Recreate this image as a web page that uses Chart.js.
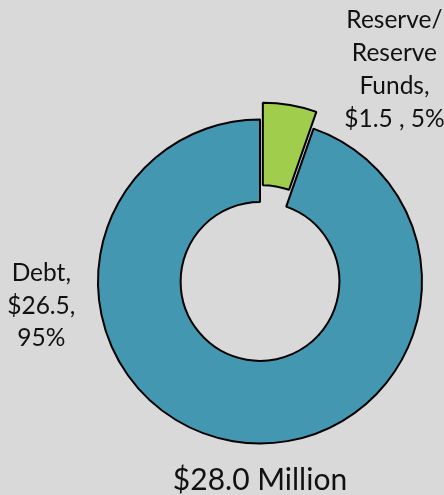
<!DOCTYPE html>
<html>
<head>
<meta charset="utf-8">
<script src="https://cdn.jsdelivr.net/npm/chart.js@4/dist/chart.umd.min.js"></script>
<style>
    html, body { margin: 0; padding: 0; background: #d9d9d9; }
    #wrap { width: 444px; height: 495px; }
</style>
</head>
<body>
<div id="wrap"><canvas id="fundChart"></canvas></div>
<script>
// Chart data (millions of dollars)
const categories = ['Reserve/ Reserve Funds', 'Debt'];
const values = [1.5, 26.5];
const percents = ['5%', '95%'];
const labelLines = [
    ['Reserve/', 'Reserve', 'Funds,', '$1.5 , 5%'],
    ['Debt,', '$26.5,', '95%']
];
const totalLabel = '$28.0 Million';

const sliceColors = ['#a0cd4b', '#4397b0'];
const explodeBy = [17, 0];   // pixels a slice is pulled out along its bisector

// label anchors relative to the doughnut centre, in units of outer radius
const labelAnchors = [
    { dx: 0.83, dy: -1.31, lineHeight: 33 },
    { dx: -1.35, dy: 0.15, lineHeight: 32.5 }
];

const FONT = "Lato, 'Open Sans', sans-serif";

// Pulls slices out of the ring like an exploded pie (whole-slice shift)
const explodeSlices = {
    id: 'explodeSlices',
    afterDatasetUpdate(chart, args) {
        args.meta.data.forEach((arc, i) => {
            const d = explodeBy[i] || 0;
            if (!d) return;
            const mid = (arc.startAngle + arc.endAngle) / 2;
            arc.x += Math.cos(mid) * d;
            arc.y += Math.sin(mid) * d;
        });
    }
};

// Draws the outside data labels next to each slice
const sliceLabels = {
    id: 'sliceLabels',
    afterDatasetsDraw(chart) {
        const { ctx, chartArea } = chart;
        const meta = chart.getDatasetMeta(0);
        const cx0 = (chartArea.left + chartArea.right) / 2;
        const cy0 = (chartArea.top + chartArea.bottom) / 2;
        ctx.save();
        ctx.fillStyle = '#111';
        ctx.font = `24.5px ${FONT}`;
        ctx.textAlign = 'center';
        ctx.textBaseline = 'middle';
        meta.data.forEach((arc, i) => {
            const a = labelAnchors[i];
            const r = arc.outerRadius;
            const cx = cx0 + a.dx * r;
            const cy = cy0 + a.dy * r;
            const lines = labelLines[i];
            const startY = cy - (lines.length - 1) * a.lineHeight / 2;
            lines.forEach((line, j) => ctx.fillText(line, cx, startY + j * a.lineHeight));
        });
        ctx.restore();
    }
};

const ctx = document.getElementById('fundChart').getContext('2d');
new Chart(ctx, {
    type: 'doughnut',
    data: {
        labels: categories,
        datasets: [{
            data: values,
            backgroundColor: sliceColors,
            borderColor: '#000',
            borderWidth: 2,
            hoverOffset: 0
        }]
    },
    options: {
        responsive: true,
        maintainAspectRatio: false,
        animation: false,
        cutout: '49%',
        layout: { padding: { left: 97, right: 21, top: 108, bottom: 0 } },
        plugins: {
            legend: { display: false },
            tooltip: { enabled: false },
            title: {
                display: true,
                position: 'bottom',
                text: totalLabel,
                color: '#111',
                font: { family: FONT, size: 30, weight: 'normal', lineHeight: 1.0 },
                padding: { top: 10, bottom: 0 }
            }
        }
    },
    plugins: [explodeSlices, sliceLabels]
});
</script>
</body>
</html>
